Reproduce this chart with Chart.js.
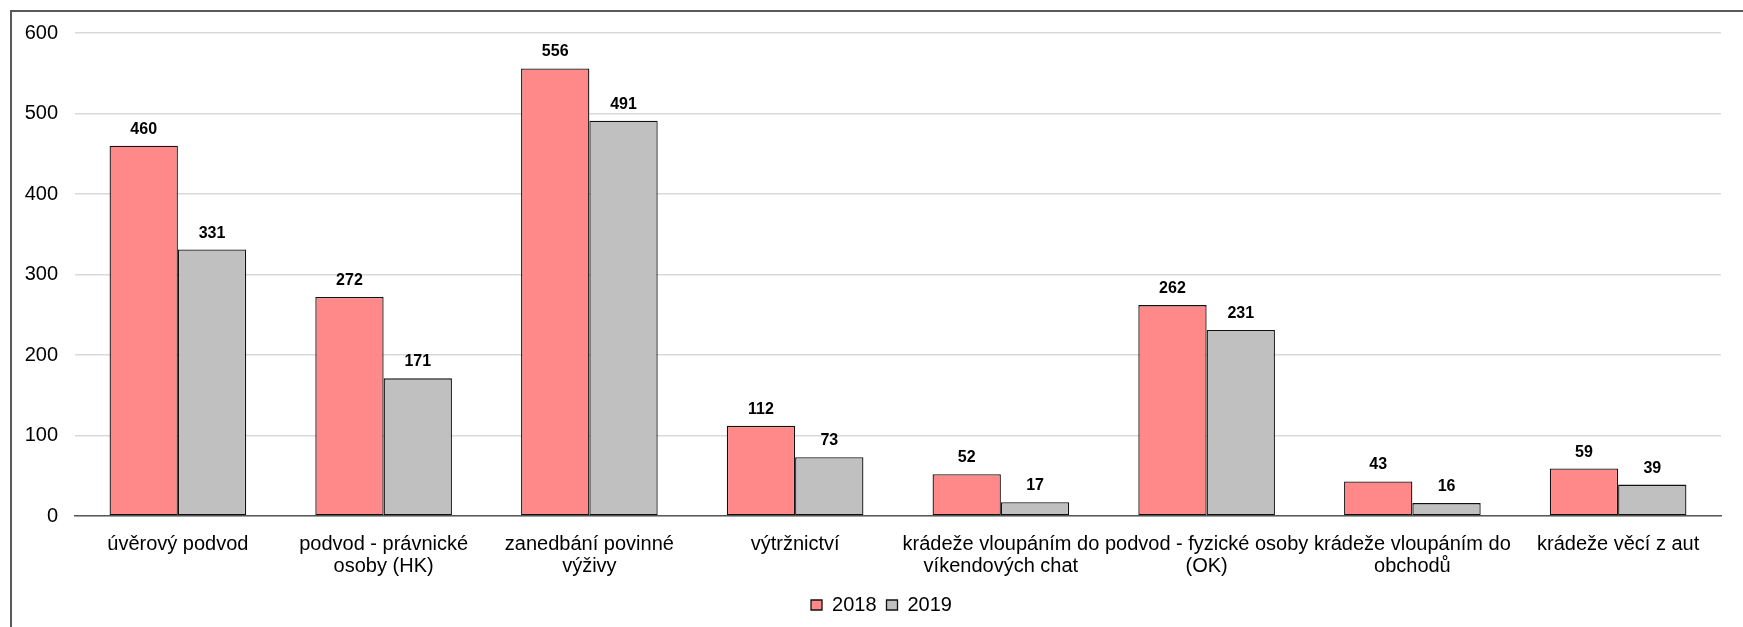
<!DOCTYPE html>
<html lang="cs">
<head>
<meta charset="utf-8">
<title>Trestná činnost 2018 / 2019</title>
<script src="https://cdn.jsdelivr.net/npm/chart.js@4/dist/chart.umd.min.js"></script>
<style>
    body { margin: 0; background: #fff; }
    .wrap { position: relative; width: 1743px; height: 627px; overflow: hidden; }
    .ramecek {
        position: absolute; left: 10px; top: 10px; right: -20px; bottom: -20px;
        border-left: 2px solid #595959; border-top: 2px solid #595959;
        pointer-events: none;
    }
</style>
</head>
<body>
<div class="wrap">
    <canvas id="trestneCinyChart" width="1743" height="627"></canvas>
    <div class="ramecek"></div>
</div>
<script>
// Kategorie (víceřádkové popisky osy X)
const kategorie = [
    'úvěrový podvod',
    ['podvod - právnické', 'osoby (HK)'],
    ['zanedbání povinné', 'výživy'],
    'výtržnictví',
    ['krádeže vloupáním do', 'víkendových chat'],
    ['podvod - fyzické osoby', '(OK)'],
    ['krádeže vloupáním do', 'obchodů'],
    'krádeže věcí z aut'
];
const hodnoty2018 = [460, 272, 556, 112, 52, 262, 43, 59];
const hodnoty2019 = [331, 171, 491, 73, 17, 231, 16, 39];
const osaY = { min: 0, max: 600, krok: 100 };

const pismo = "'Liberation Sans', Arial, sans-serif";

// Hodnoty nad sloupci
const popiskyHodnot = {
    id: 'popiskyHodnot',
    afterDatasetsDraw(chart) {
        const ctx = chart.ctx;
        ctx.save();
        ctx.font = 'bold 16px ' + pismo;
        ctx.fillStyle = '#000';
        ctx.textAlign = 'center';
        ctx.textBaseline = 'alphabetic';
        chart.data.datasets.forEach((ds, i) => {
            chart.getDatasetMeta(i).data.forEach((bar, j) => {
                ctx.fillText(ds.data[j], bar.x, bar.y - 12);
            });
        });
        ctx.restore();
    }
};

// Legenda trochu doprava (střed pod celým grafem, ne jen pod osou)
const posunLegendy = {
    id: 'posunLegendy',
    afterLayout(chart) {
        const lg = chart.legend;
        if (!lg) return;
        lg.left += 21;
        lg.right += 21;
    }
};

const ctx = document.getElementById('trestneCinyChart').getContext('2d');
const chart = new Chart(ctx, {
    type: 'bar',
    data: {
        labels: kategorie,
        datasets: [{
            label: '2018',
            data: hodnoty2018,
            backgroundColor: '#FF8888',
            borderColor: '#111',
            borderWidth: 1.3,
            borderSkipped: false
        }, {
            label: '2019',
            data: hodnoty2019,
            backgroundColor: '#C0C0C0',
            borderColor: '#111',
            borderWidth: 1.3,
            borderSkipped: false
        }]
    },
    options: {
        responsive: false,
        animation: false,
        datasets: {
            bar: { categoryPercentage: 0.664, barPercentage: 1 }
        },
        layout: {
            padding: { left: 0, right: 22, top: 33, bottom: 2 }
        },
        scales: {
            x: {
                grid: { display: false, drawTicks: false },
                border: { display: true, color: '#595959', width: 1.5 },
                ticks: {
                    autoSkip: false,
                    maxRotation: 0,
                    minRotation: 0,
                    padding: 17,
                    color: '#000',
                    font: { family: pismo, size: 20, lineHeight: 1.1 }
                },
                afterFit(scale) { scale.height = 69; }
            },
            y: {
                min: osaY.min,
                max: osaY.max,
                grid: { color: '#d9d9d9', lineWidth: 1.5, drawTicks: false },
                border: { display: false },
                ticks: {
                    stepSize: osaY.krok,
                    padding: 17,
                    color: '#000',
                    font: { family: pismo, size: 20 }
                },
                afterFit(scale) { scale.width = 75; }
            }
        },
        plugins: {
            legend: {
                position: 'bottom',
                labels: {
                    boxWidth: 11,
                    boxHeight: 10,
                    padding: 10,
                    color: '#000',
                    font: { family: pismo, size: 20 }
                }
            },
            tooltip: { enabled: false }
        }
    },
    plugins: [popiskyHodnot, posunLegendy]
});
</script>
</body>
</html>
